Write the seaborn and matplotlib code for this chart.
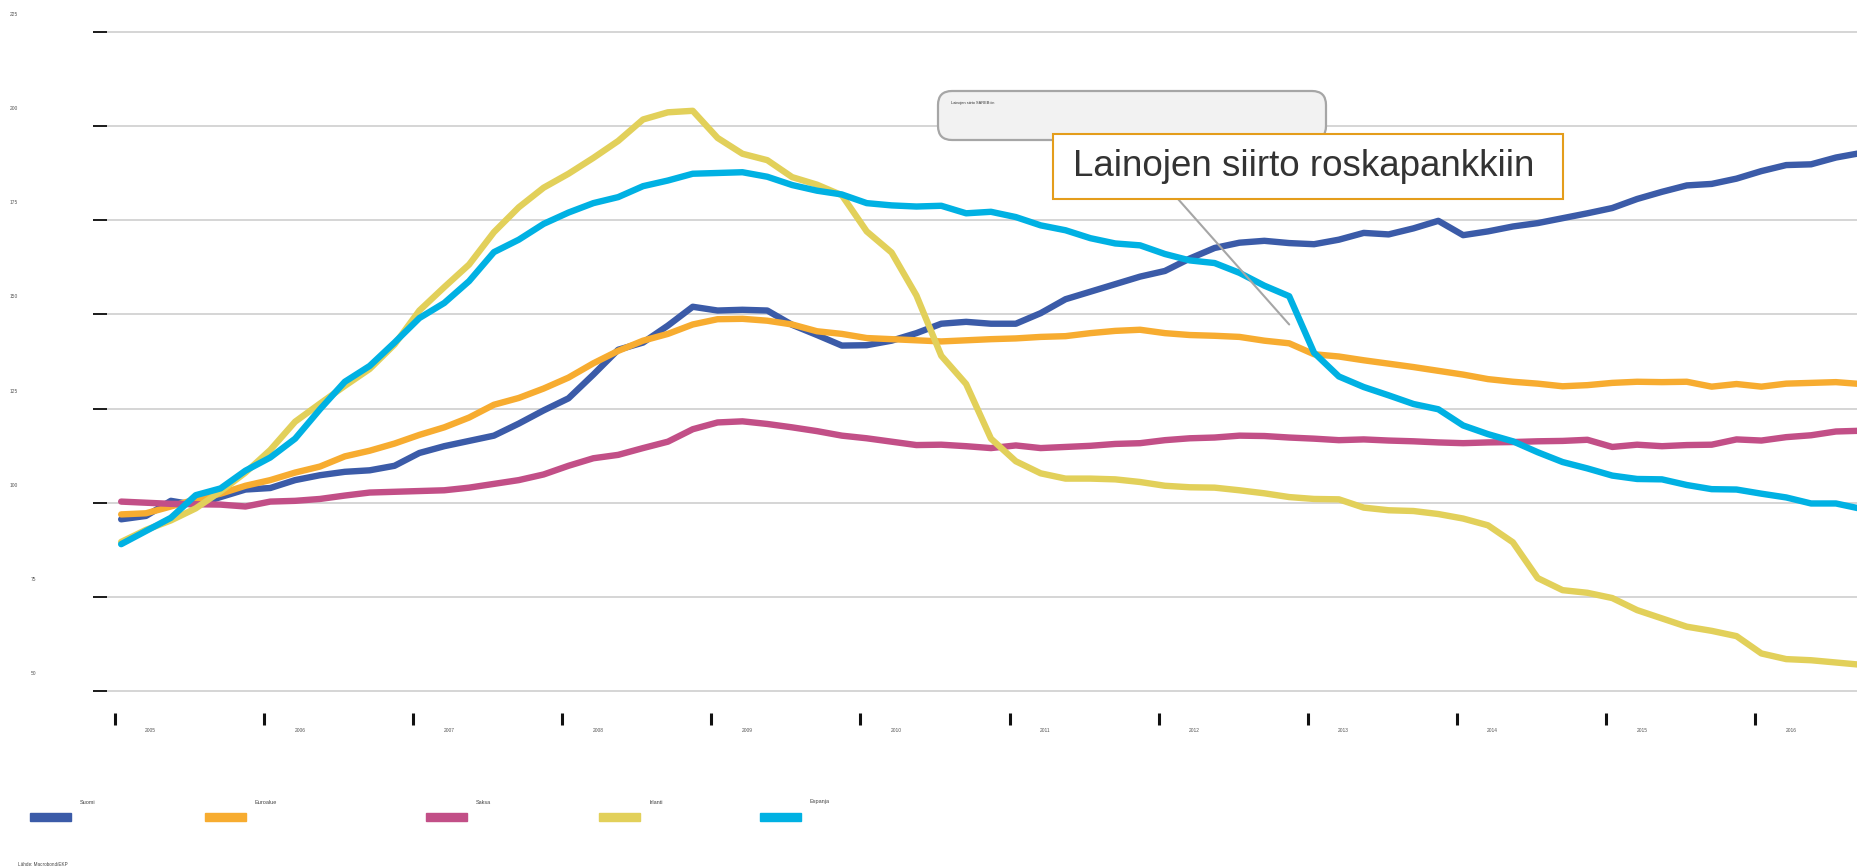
import numpy as np
import pandas as pd
import matplotlib
matplotlib.use("Agg")
import matplotlib.pyplot as plt
from matplotlib.patches import Rectangle, FancyBboxPatch
from matplotlib.transforms import blended_transform_factory, IdentityTransform
import seaborn as sns

# kahden kuukauden välein, tammikuu 2005 - syyskuu 2016
kuukaudet = pd.date_range("2005-01-01", "2016-09-01", freq="2MS")

maat = ["Suomi", "Euroalue", "Saksa", "Irlanti", "Espanja"]
varit = ["#3b5ba8", "#f7ac30", "#c24f87", "#e2d05a", "#00b1e3"]

suomi = [95.6, 96.5, 100.5, 99.4, 101.5, 103.5, 103.9, 106.0, 107.3, 108.2,
         108.6, 109.8, 113.2, 115.0, 116.4, 117.8, 121.0, 124.5, 127.7, 134.0,
         140.6, 142.5, 147.0, 152.0, 151.0, 151.2, 151.0, 147.2, 144.5, 141.7,
         141.8, 143.0, 145.0, 147.5, 148.0, 147.5, 147.5, 150.3, 154.0, 156.0,
         158.0, 160.0, 161.5, 164.8, 167.6, 169.0, 169.5, 168.9, 168.6, 169.8,
         171.6, 171.2, 172.8, 174.8, 171.0, 172.0, 173.3, 174.2, 175.5, 176.8,
         178.2, 180.6, 182.5, 184.2, 184.6, 186.0, 188.0, 189.6, 189.8, 191.6,
         192.8]
euroalue = [96.9, 97.2, 99.0, 100.9, 102.4, 104.5, 106.0, 108.0, 109.6, 112.3,
            113.8, 115.7, 118.0, 120.0, 122.6, 126.0, 127.8, 130.3, 133.2, 137.0,
            140.3, 143.0, 144.8, 147.3, 148.7, 148.8, 148.3, 147.3, 145.5, 144.8,
            143.7, 143.4, 143.1, 142.8, 143.1, 143.4, 143.6, 144.0, 144.2, 145.0,
            145.6, 145.9, 145.0, 144.5, 144.3, 144.0, 143.0, 142.3, 139.4, 138.8,
            137.8, 136.9, 136.0, 135.0, 134.0, 132.8, 132.1, 131.6, 130.9, 131.2,
            131.8, 132.1, 132.0, 132.1, 130.8, 131.5, 130.8, 131.6, 131.8, 132.0,
            131.5]
saksa = [100.3, 100.0, 99.7, 99.6, 99.5, 99.0, 100.3, 100.5, 101.0, 101.9,
         102.7, 102.9, 103.1, 103.3, 104.0, 105.0, 106.0, 107.5, 109.8, 111.8,
         112.7, 114.5, 116.2, 119.5, 121.3, 121.6, 120.9, 120.0, 119.0, 117.8,
         117.1, 116.2, 115.3, 115.4, 115.0, 114.5, 115.2, 114.5, 114.8, 115.1,
         115.6, 115.8, 116.6, 117.1, 117.3, 117.8, 117.7, 117.3, 117.0, 116.6,
         116.8, 116.5, 116.3, 116.0, 115.8, 116.0, 116.1, 116.3, 116.4, 116.7,
         114.8, 115.4, 115.0, 115.3, 115.4, 116.8, 116.5, 117.4, 117.9, 118.9,
         119.1]
irlanti = [89.6, 92.8, 95.3, 98.5, 103.0, 108.0, 114.0, 121.5, 126.3, 131.0,
           135.5, 142.0, 151.0, 157.2, 163.2, 171.8, 178.4, 183.6, 187.3, 191.5,
           196.0, 201.7, 203.6, 204.0, 196.8, 192.6, 190.9, 186.4, 184.4, 181.6,
           172.0, 166.4, 155.0, 139.0, 131.5, 117.0, 111.0, 107.8, 106.4, 106.4,
           106.2, 105.5, 104.5, 104.1, 104.0, 103.3, 102.5, 101.5, 101.0, 100.9,
           98.7, 98.0, 97.8, 97.0, 95.8, 94.0, 89.5, 80.0, 76.8, 76.1,
           74.7, 71.5, 69.3, 67.1, 66.0, 64.6, 60.0, 58.5, 58.2, 57.6,
           57.0]
espanja = [89.0, 92.5, 96.0, 102.0, 103.8, 108.5, 112.0, 117.0, 124.8, 132.1,
           136.3, 142.5, 149.0, 153.0, 158.8, 166.5, 169.8, 174.0, 177.0, 179.5,
           181.1, 184.0, 185.5, 187.3, 187.5, 187.7, 186.5, 184.3, 182.8, 181.8,
           179.5, 178.9, 178.6, 178.8, 176.8, 177.2, 175.8, 173.6, 172.3, 170.2,
           168.8, 168.3, 166.0, 164.3, 163.6, 161.0, 157.6, 154.8, 139.8, 133.5,
           130.7, 128.5, 126.2, 124.8, 120.5, 118.2, 116.3, 113.4, 110.8, 109.1,
           107.2, 106.3, 106.2, 104.7, 103.6, 103.5, 102.4, 101.4, 99.8, 99.8,
           98.4]

y_arvot = [50, 75, 100, 125, 150, 175, 200, 225]
vuodet = list(range(2005, 2017))

aika = kuukaudet.year + (kuukaudet.month - 0.5) / 12
sarjat = [suomi, euroalue, saksa, irlanti, espanja]
df = pd.concat([pd.DataFrame({"aika": aika, "indeksi": s, "maa": m})
                for m, s in zip(maat, sarjat)], ignore_index=True)

sns.set_style("white")
plt.rcParams['font.family'] = ['Liberation Sans', 'DejaVu Sans']

W, H = 1857, 868
fig = plt.figure(figsize=(W / 100, H / 100), dpi=100)
ax = fig.add_axes([106.6 / W, 155 / H, 1 - 106.6 / W, 685.1 / H])

sns.lineplot(data=df, x="aika", y="indeksi", hue="maa", hue_order=maat,
             palette=varit, linewidth=4.6, legend=False, ax=ax,
             estimator=None, sort=False)

ax.set_xlim(2004.944, 2016.683)
ax.set_ylim(44.2, 226)
for s in ax.spines.values():
    s.set_visible(False)

ax.set_yticks(y_arvot)
ax.yaxis.grid(True, color="#cacaca", linewidth=1.1)
ax.tick_params(axis="y", left=True, direction="out", length=10, width=1.4,
               color="#1a1a1a", labelleft=False)
ax.set_xticks(vuodet)
ax.tick_params(axis="x", which="major", bottom=True, direction="out",
               length=8.6, width=2.2, color="#111111", labelbottom=False)
ax.set_xticks([v + 0.24 for v in vuodet], minor=True)
ax.set_xticklabels([str(v) for v in vuodet], minor=True)
ax.tick_params(axis="x", which="minor", bottom=True, length=0, pad=11,
               labelsize=3.5, labelcolor="#555555")
ax.set_xlabel("")
ax.set_ylabel("")

# y-akselin luvut viivojen yläpuolelle vasempaan reunaan
trans = blended_transform_factory(fig.transFigure, ax.transData)
for v in y_arvot:
    lab = str(v)
    x0 = 10 / W if len(lab) == 3 else 31 / W
    ax.text(x0, v + 4.6, lab, transform=trans, fontsize=3.5, color="#555555",
            ha="left", va="center")

# selite
selite_x = [29.6, 205, 426, 599, 760]
for x0, m, c in zip(selite_x, maat, varit):
    fig.add_artist(Rectangle((x0 / W, 47 / H), 41 / W, 8 / H,
                             transform=fig.transFigure, color=c))
    fig.text((x0 + 50) / W, 66 / H, m, fontsize=4, color="#444444",
             ha="left", va="center")

fig.text(18 / W, 4 / H, "Lähde: Macrobond/EKP", fontsize=3.3, color="#444444",
         ha="left", va="center")

# huomautuslaatikot
harmaa = FancyBboxPatch((938, H - 140), 388, 49,
                        boxstyle="round,pad=0,rounding_size=14",
                        transform=IdentityTransform(), facecolor="#f2f2f2",
                        edgecolor="#a6a6a6", linewidth=1.6, zorder=5)
fig.add_artist(harmaa)
fig.text(951 / W, (H - 103) / H, "Lainojen siirto SAREB:iin", fontsize=2.8,
         color="#333333", ha="left", va="center", zorder=6)

ax.annotate("", xy=(aika[47], (espanja[47] + espanja[48]) / 2), xycoords="data",
            xytext=(1178 / W, (H - 199) / H), textcoords="figure fraction",
            arrowprops=dict(arrowstyle="-", color="#a6a6a6", lw=1.5,
                            shrinkA=0, shrinkB=0), zorder=6)

fig.add_artist(Rectangle((1053 / W, (H - 199) / H), 510 / W, 65 / H,
                         transform=fig.transFigure, facecolor="white",
                         edgecolor="#e49d1b", linewidth=1.5, zorder=7))
fig.text(1073 / W, (H - 166) / H, "Lainojen siirto roskapankkiin",
         fontsize=26.5, color="#333333", ha="left", va="center", zorder=8)

fig.savefig("out.png", dpi=100)
